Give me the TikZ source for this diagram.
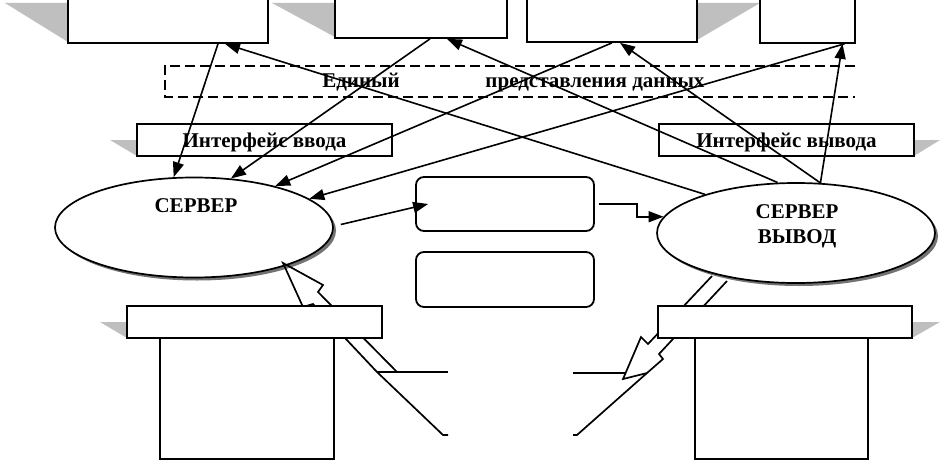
\documentclass[tikz,border=0pt]{standalone}
\usepackage{fontspec}
\setmainfont{Liberation Serif}
\usetikzlibrary{arrows.meta,shapes.geometric}
\begin{document}
\begin{tikzpicture}[x=1pt,y=-1pt,
  ln/.style={line width=1.7pt},
  box/.style={draw, line width=1.7pt, fill=white, inner sep=0pt},
  shd/.style={fill=black!25, draw=none},
  arr/.style={line width=1.6pt, -{Triangle[length=15pt,width=11pt]}},
  lbl/.style={font=\fontsize{21}{24}\selectfont\bfseries, inner sep=0pt},
  srv/.style={ellipse, draw, line width=1.7pt, fill=white, minimum width=278pt, minimum height=100pt, inner sep=0pt},
  rbox/.style={draw, line width=1.8pt, fill=white, rounded corners=8pt, minimum width=178pt, minimum height=54pt, inner sep=0pt}
]
\useasboundingbox (0,0) rectangle (942,460);
\clip (0,0) rectangle (942,460);
\fill[white] (0,0) rectangle (942,460);

% shadows of the top boxes
\fill[shd] (5,3) -- (68,3) -- (68,42) -- cycle;
\fill[shd] (272,3) -- (335,3) -- (335,37) -- cycle;
\fill[shd] (697,3) -- (760,3) -- (697,40) -- cycle;

% top boxes
\node[box, minimum width=200pt, minimum height=48pt] (boxA) at (168,19) {};
\node[box, minimum width=172pt, minimum height=43pt] (boxB) at (421,16.5) {};
\node[box, minimum width=170pt, minimum height=47pt] (boxC) at (612,18.5) {};
\node[box, minimum width=95pt, minimum height=48pt] (boxD) at (807.5,19) {};

% unified format band
\node[minimum width=690pt, minimum height=31pt, inner sep=0pt] (uni) at (510,81.5) {};
\draw[line width=1.8pt, dash pattern=on 10pt off 5pt] (uni.north east) -- (uni.north west) -- (uni.south west) -- (uni.south east);
\node[lbl, anchor=base] (uniA) at (361,88) {Единый};
\node[lbl, anchor=base] (uniB) at (595,88) {представления данных};

% top interface labels
\fill[shd] (110,140) -- (137,140) -- (137,156) -- cycle;
\fill[shd] (914,140) -- (940,140) -- (914,156) -- cycle;
\node[box, minimum width=255pt, minimum height=32pt] (inTop) at (264.5,140) {};
\node[lbl, anchor=base] (inTopT) at (264.5,147) {Интерфейс ввода};
\node[box, minimum width=255pt, minimum height=32pt] (outTop) at (786.5,140) {};
\node[lbl, anchor=base] (outTopT) at (786.5,147) {Интерфейс вывода};

% servers
\node[srv, draw=none, fill=black!55] (srvInS) at (197,230.5) {};
\node[srv] (srvIn) at (194,227.5) {};
\node[lbl, anchor=base] (srvInT) at (196,212) {СЕРВЕР};
\node[srv, draw=none, fill=black!55] (srvOutS) at (799,236) {};
\node[srv] (srvOut) at (796,233) {};
\node[lbl, anchor=base] (srvOutT1) at (797,218) {СЕРВЕР};
\node[lbl, anchor=base] (srvOutT2) at (797,243) {ВЫВОД};

% rounded boxes
\node[rbox] (r1) at (505,204) {};
\node[rbox, minimum height=55pt] (r2) at (505,279.5) {};

% connectors
\draw[arr] ([xshift=50pt]boxA.south) -- (srvIn.112);
\draw[arr] (srvOut.157) -- ([xshift=57pt]boxA.south);
\draw[arr] ([xshift=9pt]boxB.south) -- (srvIn.53);
\draw[arr] (srvOut.110) -- ([xshift=26pt]boxB.south);
\draw[arr] (boxC.south) -- (srvIn.27);
\draw[arr] (srvOut.64) -- ([xshift=8pt]boxC.south);
\draw[arr] ([xshift=37pt]boxD.south) -- (srvIn.14);
\draw[arr] (srvOut.64) -- ([xshift=35pt]boxD.south);
\draw[arr] ([xshift=7pt,yshift=3pt]srvIn.east) -- ([xshift=13pt]r1.west);
\draw[arr] ([xshift=4pt]r1.east) -- ++(38,0) |- (srvOut.173);

% block arrows
\draw[ln, line join=miter] (448,435) -- (443,435) -- (377,372) -- (313,304) -- (303,307) -- (283,263) -- (323,285) -- (318,292) -- (397,372);
\draw[ln] (377,372) -- (448,372);
\draw[ln, line join=miter] (712,276) -- (648,344) -- (641,337) -- (623,379) -- (647,373) -- (663,359) -- (659,354) -- (727,281);
\draw[ln] (647,373) -- (577,435) -- (573,435);
\draw[ln] (573,373) -- (626,373);

% bottom interface labels and boxes
\fill[shd] (100,322) -- (127,322) -- (127,338) -- cycle;
\fill[shd] (912,322) -- (940,322) -- (912,338) -- cycle;
\node[box, minimum width=255pt, minimum height=32pt] (inBot) at (254.5,322) {};
\node[box, minimum width=254pt, minimum height=32pt] (outBot) at (785,322) {};
\node[box, minimum width=174pt, minimum height=121pt] (dbIn) at (247,398.5) {};
\node[box, minimum width=173pt, minimum height=121pt] (dbOut) at (781.5,398.5) {};
\end{tikzpicture}
\end{document}
